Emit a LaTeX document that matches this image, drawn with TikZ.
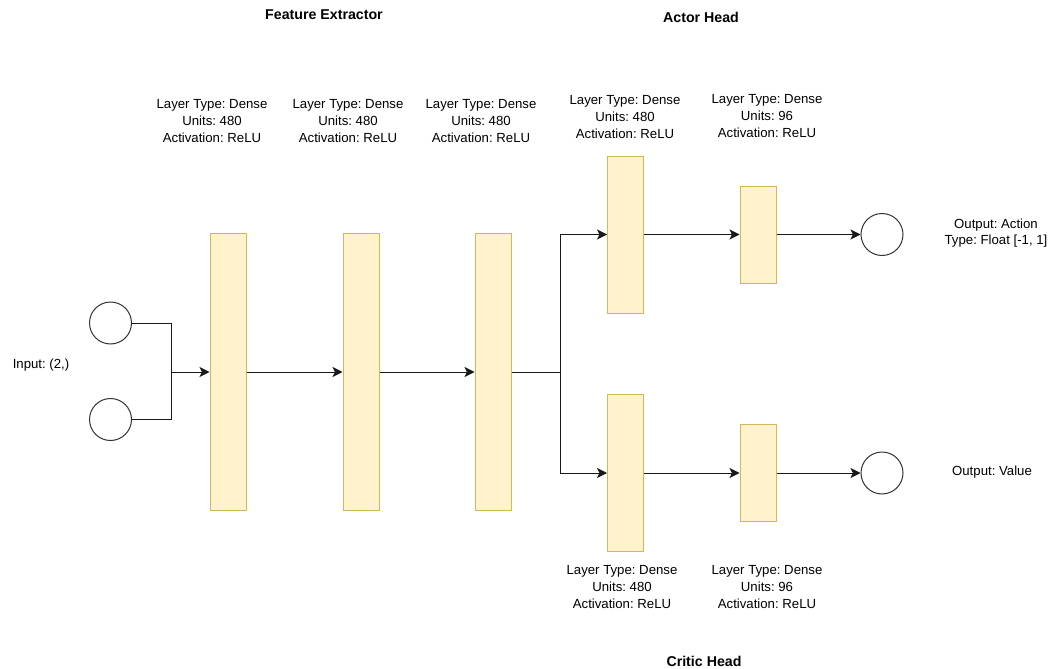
\documentclass[tikz,border=0pt]{standalone}
\usepackage{fontspec}
\setmainfont{Liberation Sans}
\usetikzlibrary{arrows.meta}
\definecolor{layerfill}{HTML}{FFF2CC}
\definecolor{layerdraw}{HTML}{D6B656}
\tikzset{
  layer/.style={draw=layerdraw, fill=layerfill, line width=1pt, minimum width=36pt, inner sep=0pt},
  neuron/.style={circle, draw=black!80, line width=1pt, minimum size=42pt, inner sep=0pt},
  lbl/.style={align=center, font=\fontsize{13.2}{16.8}\selectfont\frenchspacing, inner sep=0pt},
  ttl/.style={font=\fontsize{14.2}{16}\selectfont\bfseries\frenchspacing, inner sep=0pt},
  conn/.style={line width=1pt, draw=black!90},
  arr/.style={conn, -{Stealth[length=10pt,width=10pt,inset=2.5pt]}}
}
\begin{document}
\frenchspacing
\begin{tikzpicture}[x=1pt,y=-1pt]
\useasboundingbox (0,0) rectangle (1053,669);
% input
\node[neuron] (in1) at (110.5,323) {};
\node[neuron] (in2) at (110.5,419.5) {};
\node[lbl] (inlbl) at (41,365) {Input: (2,)};
% feature extractor layers
\node[layer, minimum height=277pt] (f1) at (228,371.5) {};
\node[layer, minimum height=277pt] (f2) at (361,371.5) {};
\node[layer, minimum height=277pt] (f3) at (493,371.5) {};
% actor head
\node[layer, minimum height=157pt] (a1) at (625.5,234.5) {};
\node[layer, minimum height=97pt] (a2) at (758,234.5) {};
\node[neuron] (aout) at (882,234.5) {};
% critic head
\node[layer, minimum height=157pt] (c1) at (625.5,473) {};
\node[layer, minimum height=97pt] (c2) at (758,473) {};
\node[neuron] (cout) at (882,473) {};
% coordinates
\coordinate (j1) at (171,372);
\coordinate (j2) at (560,372);
% connectors
\draw[conn] (in1.east) -| (j1);
\draw[conn] (in2.east) -| (j1);
\draw[arr] (j1) -- (f1.west |- j1);
\draw[arr] (f1.east |- j1) -- (f2.west |- j1);
\draw[arr] (f2.east |- j1) -- (f3.west |- j1);
\draw[conn] (f3.east |- j1) -- (j2);
\draw[arr] (j2) |- (a1.west);
\draw[arr] (j2) |- (c1.west);
\draw[arr] (a1.east) -- (a2.west);
\draw[arr] (a2.east) -- (aout.west);
\draw[arr] (c1.east) -- (c2.west);
\draw[arr] (c2.east) -- (cout.west);
% labels
\node[lbl] (lf1) at (212,121) {Layer Type: Dense\\Units: 480\\Activation: ReLU};
\node[lbl] (lf2) at (348,121) {Layer Type: Dense\\Units: 480\\Activation: ReLU};
\node[lbl] (lf3) at (481,121) {Layer Type: Dense\\Units: 480\\Activation: ReLU};
\node[lbl] (la1) at (625,117) {Layer Type: Dense\\Units: 480\\Activation: ReLU};
\node[lbl] (la2) at (767,116) {Layer Type: Dense\\Units: 96\\Activation: ReLU};
\node[lbl] (lc1) at (622,587) {Layer Type: Dense\\Units: 480\\Activation: ReLU};
\node[lbl] (lc2) at (767,587) {Layer Type: Dense\\Units: 96\\Activation: ReLU};
\node[lbl] (lao) at (996,233) {Output: Action\\Type: Float [-1, 1]};
\node[lbl] (lco) at (992,472) {Output: Value};
% titles
\node[ttl] (t1) at (324,15) {Feature Extractor};
\node[ttl] (t2) at (701,17) {Actor Head};
\node[ttl] (t3) at (704,661) {Critic Head};
\end{tikzpicture}
\end{document}
